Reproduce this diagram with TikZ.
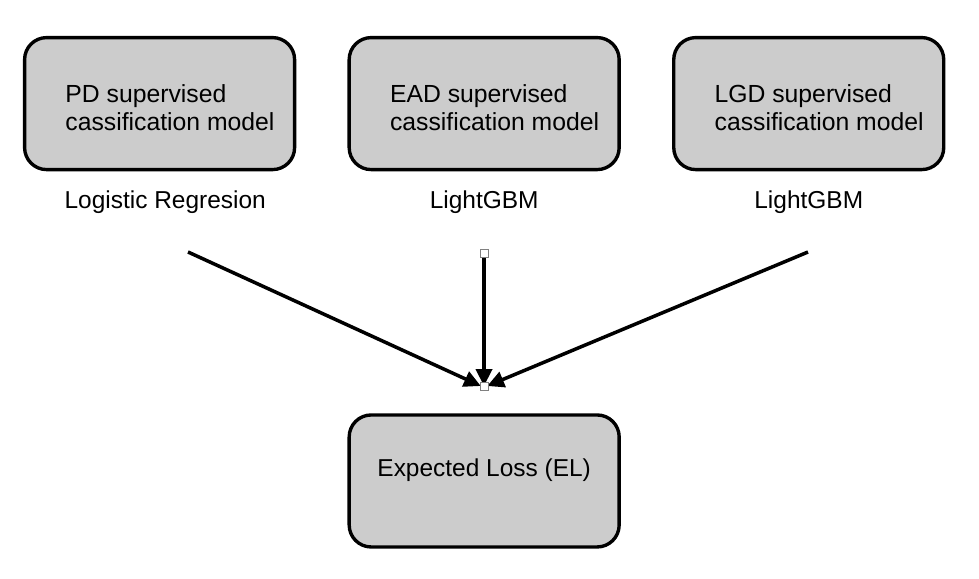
\documentclass[tikz,border=0pt]{standalone}
\usepackage{fontspec}
\setmainfont{Liberation Sans}
\usetikzlibrary{positioning}
\usetikzlibrary{arrows.meta}

\begin{document}
\begin{tikzpicture}[
                modelbox/.style={rectangle, draw, fill=gray!40, line width=2.4pt, rounded corners=0.55cm, minimum width=6.75cm, minimum height=3.3cm},
                boxtext/.style={anchor=west, align=left, font=\fontsize{17.6}{19.3}\selectfont},
                modellabel/.style={font=\fontsize{17.4}{19}\selectfont},
                handle/.style={rectangle, draw=gray, fill=white, line width=0.7pt, minimum size=0.2cm, inner sep=0pt},
                flow/.style={-{Triangle[length=0.42cm,width=0.4cm]}, line width=2.5pt},
            ]
            \useasboundingbox (0,0) rectangle (24.475,-14.475);
            % Nodes
            \node[modelbox]        (pd)      at (3.99,-2.59)            {};
            \node[modelbox]        (ead)     [right=1.28cm of pd]       {};
            \node[modelbox]        (lgd)     [right=1.28cm of ead]      {};
            \node[modelbox]        (el)      [below=6.05cm of ead]      {};

            \node[boxtext]         (pdtext)  at ([xshift=0.94cm,yshift=-0.1cm]pd.west)   {PD supervised\\cassification model};
            \node[boxtext]         (eadtext) at ([xshift=0.94cm,yshift=-0.1cm]ead.west)  {EAD supervised\\cassification model};
            \node[boxtext]         (lgdtext) at ([xshift=0.94cm,yshift=-0.1cm]lgd.west)  {LGD supervised\\cassification model};
            \node[modellabel]      (eltext)  at ([yshift=0.26cm]el.center)                {Expected Loss (EL)};

            \node[modellabel]      (pdlabel)  [below=0.37cm of pd, xshift=0.14cm]  {Logistic Regresion};
            \node[modellabel]      (eadlabel) [below=0.37cm of ead]    {LightGBM};
            \node[modellabel]      (lgdlabel) [below=0.37cm of lgd]    {LightGBM};

            \coordinate (pdtail)  at (4.7,-6.3);
            \coordinate (eadtail) at (12.1,-6.325);
            \coordinate (lgdtail) at (20.2,-6.3);
            \coordinate (hub)     at (12.1,-9.65);

            %Lines
            \draw[flow] (pdtail) -- ([xshift=-0.08cm]hub);
            \draw[flow] (eadtail) -- (hub);
            \draw[flow] (lgdtail) -- ([xshift=0.08cm]hub);

            \node[handle]          (eadgrip) at (eadtail)   {};
            \node[handle]          (hubgrip) at (hub)       {};
        \end{tikzpicture}
\end{document}
